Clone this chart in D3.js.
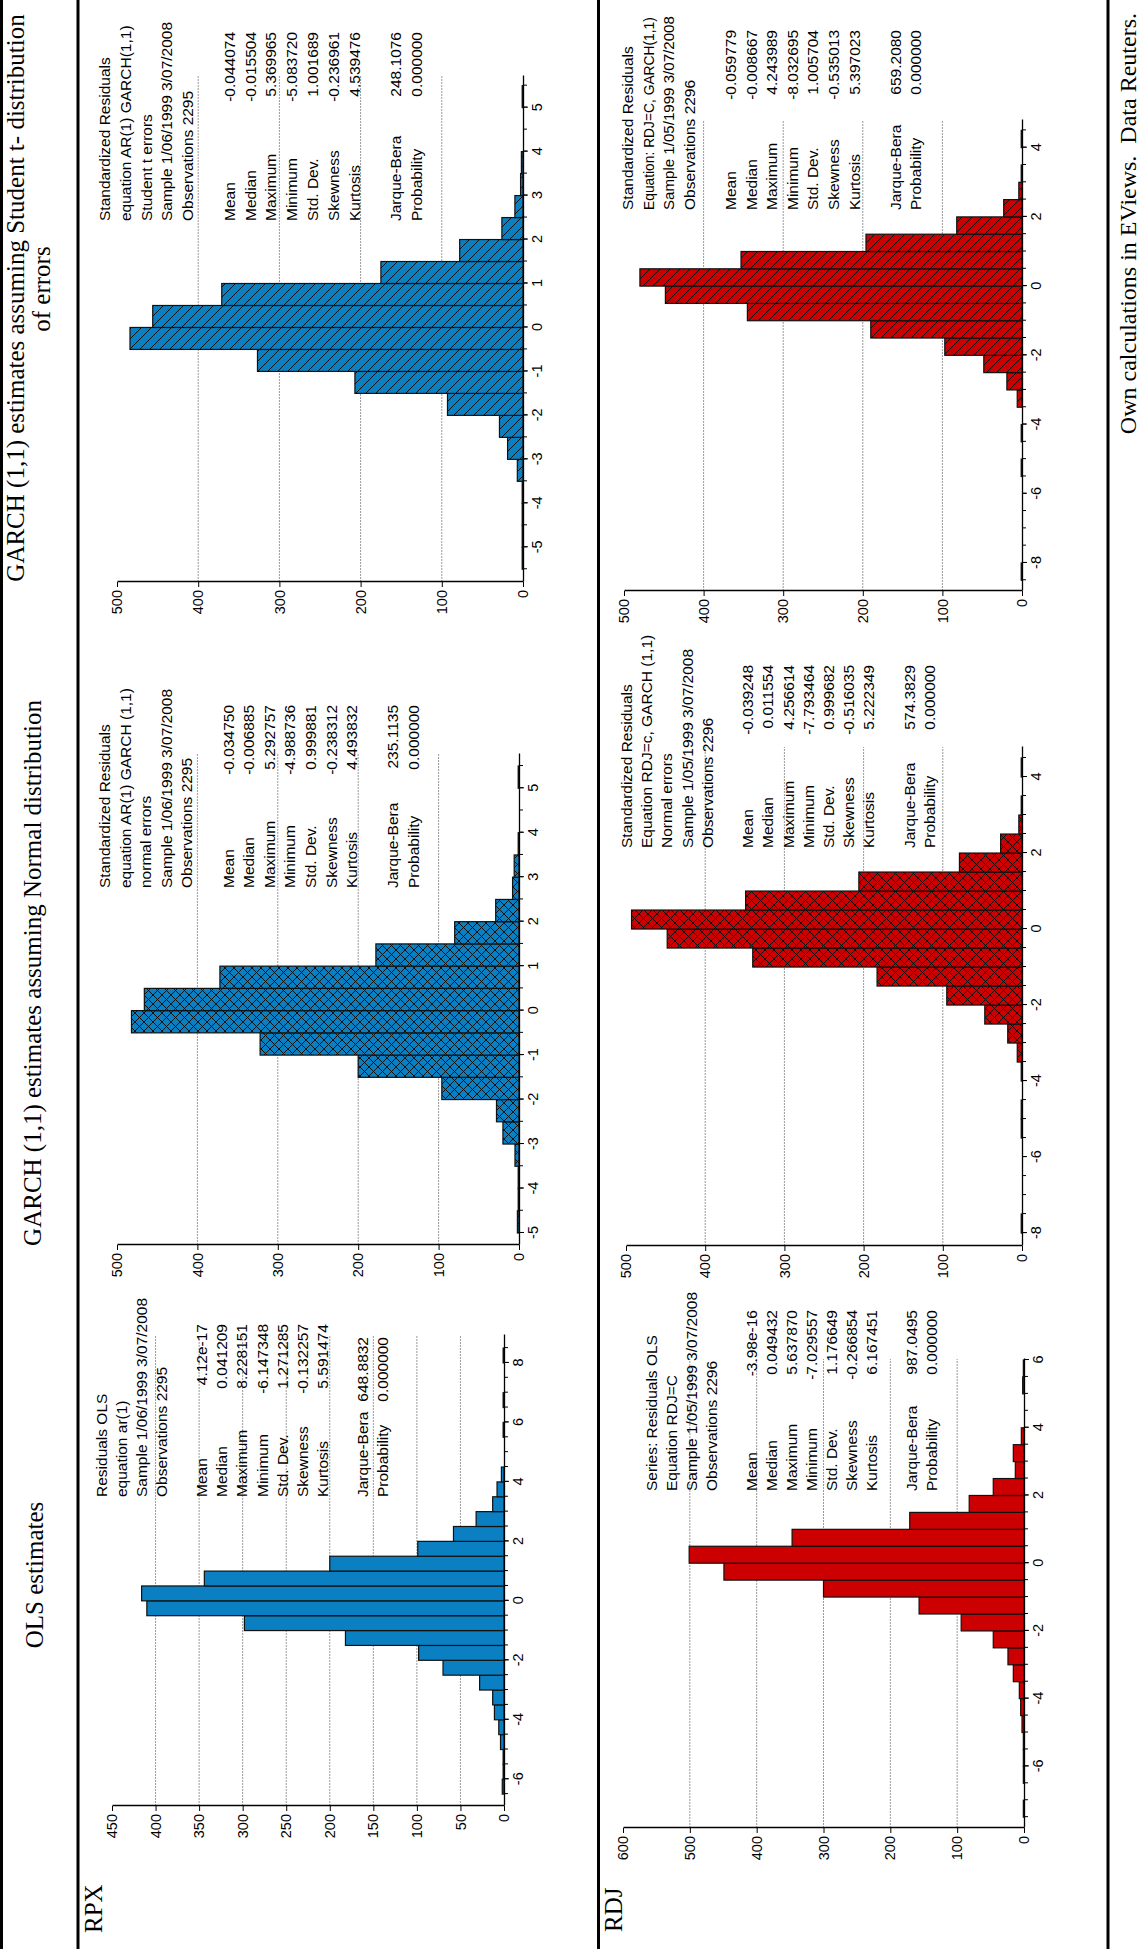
<!DOCTYPE html>
<html>
<head>
<meta charset="utf-8">
<script src="https://cdn.jsdelivr.net/npm/d3@7"></script>
<style>
  body { margin: 0; background: #fff; }
  svg { display: block; }
</style>
</head>
<body>
<script>
// ---- data ----
const rowLabels = ['RPX', 'RDJ'];
const colTitles = ['OLS estimates', 'GARCH (1,1) estimates assuming Normal distribution',
  'GARCH (1,1) estimates assuming Student t- distribution', 'of errors'];
const footNote = 'Own calculations in EViews.  Data Reuters.';

const statLabels = ['Mean', 'Median', 'Maximum', 'Minimum', 'Std. Dev.', 'Skewness', 'Kurtosis'];
const jbLabels = ['Jarque-Bera', 'Probability'];

// histogram counts, bins of width 0.5 starting at binStart
const rpxOlsStart = -6.5;
const rpxOlsCounts = [2, 1, 1, 4, 6, 11, 13, 28, 70, 98, 182, 298, 410, 416, 344, 200, 99, 58, 32, 13, 8, 3, 0, 0, 1, 0, 1, 0, 0, 1];
const rpxNormStart = -5;
const rpxNormCounts = [2, 1, 1, 5, 20, 28, 96, 200, 322, 482, 466, 372, 178, 80, 29, 8, 6, 1, 0, 0, 1];
const rpxStudStart = -5.5;
const rpxStudCounts = [1, 1, 1, 1, 7, 19, 29, 93, 207, 327, 484, 456, 371, 175, 78, 26, 10, 3, 2, 0, 0, 1];
const rdjOlsStart = -7.5;
const rdjOlsCounts = [1, 0, 1, 1, 1, 3, 5, 7, 16, 24, 46, 94, 157, 300, 449, 501, 347, 171, 82, 46, 13, 16, 4, 0, 0, 2, 1];
const rdjNormStart = -8;
const rdjNormCounts = [1, 0, 0, 0, 0, 1, 1, 0, 1, 6, 18, 47, 95, 183, 340, 448, 493, 349, 206, 79, 27, 4, 1, 0, 1];
const rdjStudStart = -8.5;
const rdjStudCounts = [1, 0, 0, 0, 0, 0, 1, 0, 1, 0, 6, 19, 48, 97, 190, 345, 448, 480, 353, 196, 82, 23, 4, 1, 0, 1];

const rpxOlsHead = ['Residuals OLS', 'equation ar(1)', 'Sample 1/06/1999 3/07/2008', 'Observations 2295'];
const rpxOlsStats = ['4.12e-17', '0.041209', '8.228151', '-6.147348', '1.271285', '-0.132257', '5.591474'];
const rpxOlsJb = ['648.8832', '0.000000'];
const rpxNormHead = ['Standardized Residuals', 'equation AR(1) GARCH (1,1)', 'normal errors', 'Sample 1/06/1999 3/07/2008', 'Observations 2295'];
const rpxNormStats = ['-0.034750', '-0.006885', '5.292757', '-4.988736', '0.999881', '-0.238312', '4.493832'];
const rpxNormJb = ['235.1135', '0.000000'];
const rpxStudHead = ['Standardized Residuals', 'equation AR(1) GARCH(1,1)', 'Student t errors', 'Sample 1/06/1999 3/07/2008', 'Observations 2295'];
const rpxStudStats = ['-0.044074', '-0.015504', '5.369965', '-5.083720', '1.001689', '-0.236961', '4.539476'];
const rpxStudJb = ['248.1076', '0.000000'];
const rdjOlsHead = ['Series: Residuals OLS', 'Equation RDJ=C', 'Sample 1/05/1999 3/07/2008', 'Observations 2296'];
const rdjOlsStats = ['-3.98e-16', '0.049432', '5.637870', '-7.029557', '1.176649', '-0.266854', '6.167451'];
const rdjOlsJb = ['987.0495', '0.000000'];
const rdjNormHead = ['Standardized Residuals', 'Equation RDJ=c, GARCH (1,1)', 'Normal errors', 'Sample 1/05/1999 3/07/2008', 'Observations 2296'];
const rdjNormStats = ['-0.039248', '0.011554', '4.256614', '-7.793464', '0.999682', '-0.516035', '5.222349'];
const rdjNormJb = ['574.3829', '0.000000'];
const rdjStudHead = ['Standardized Residuals', 'Equation: RDJ=C, GARCH(1,1)', 'Sample 1/05/1999 3/07/2008', 'Observations 2296'];
const rdjStudStats = ['-0.059779', '-0.008667', '4.243989', '-8.032695', '1.005704', '-0.535013', '5.397023'];
const rdjStudJb = ['659.2080', '0.000000'];

const blue = '#0a80c2', red = '#cc0000';

// ---- layout (page is drawn in a rotated frame: 1949 wide, 1144 tall) ----
const W = 1144, H = 1949;
const panels = [
  { start: rpxOlsStart, counts: rpxOlsCounts, head: rpxOlsHead, stats: rpxOlsStats, jb: rpxOlsJb, color: blue, fill: 'solid',
    ax: 143, x1: 614, dom: [-6.9, 8.94], y0: 504, yTop: 112, vmax: 450, vstep: 50, lstep: 2,
    tx: 452, vx: 625, jx: 612, base: 106.7, lh: 20.1 },
  { start: rpxNormStart, counts: rpxNormCounts, head: rpxNormHead, stats: rpxNormStats, jb: rpxNormJb, color: blue, fill: 'cross',
    ax: 704, x1: 1195, dom: [-5.27, 5.77], y0: 519, yTop: 117, vmax: 500, vstep: 100, lstep: 1,
    tx: 1061, vx: 1244, jx: 1244, base: 110, lh: 20.6 },
  { start: rpxStudStart, counts: rpxStudCounts, head: rpxStudHead, stats: rpxStudStats, jb: rpxStudJb, color: blue, fill: 'hatch',
    ax: 1367, x1: 1873, dom: [-5.79, 5.72], y0: 523, yTop: 117, vmax: 500, vstep: 100, lstep: 1,
    tx: 1728, vx: 1917, jx: 1917, base: 110, lh: 20.8 },
  { start: rdjOlsStart, counts: rdjOlsCounts, head: rdjOlsHead, stats: rdjOlsStats, jb: rdjOlsJb, color: red, fill: 'solid',
    ax: 121, x1: 590, dom: [-7.82, 6.03], y0: 1024, yTop: 623, vmax: 600, vstep: 100, lstep: 2,
    tx: 458, vx: 639, jx: 639, base: 657, lh: 20 },
  { start: rdjNormStart, counts: rdjNormCounts, head: rdjNormHead, stats: rdjNormStats, jb: rdjNormJb, color: red, fill: 'cross',
    ax: 703, x1: 1202, dom: [-8.34, 4.79], y0: 1022, yTop: 626, vmax: 500, vstep: 100, lstep: 2,
    tx: 1101, vx: 1284, jx: 1284, base: 632, lh: 20.2 },
  { start: rdjStudStart, counts: rdjStudCounts, head: rdjStudHead, stats: rdjStudStats, jb: rdjStudJb, color: red, fill: 'hatch',
    ax: 1358, x1: 1829, dom: [-8.81, 4.8], y0: 1022, yTop: 624, vmax: 500, vstep: 100, lstep: 2,
    tx: 1739, vx: 1919, jx: 1919, base: 633, lh: 20.6 }
];

const svg = d3.select('body').append('svg')
  .attr('width', W)
  .attr('height', H);

const defs = svg.append('defs');
const makePattern = (id, color, kind) => {
  const s = kind === 'cross' ? 9 : 10;
  const p = defs.append('pattern')
    .attr('id', id)
    .attr('patternUnits', 'userSpaceOnUse')
    .attr('width', s).attr('height', s);
  p.append('rect').attr('width', s).attr('height', s).attr('fill', color);
  // "\" in the rotated frame shows as "/" on the page
  p.append('path')
    .attr('d', `M-1,-1L${s + 1},${s + 1}M-1,${s - 1}L1,${s + 1}M${s - 1},-1L${s + 1},1`)
    .attr('stroke', '#111').attr('stroke-width', 1);
  if (kind === 'cross') {
    p.append('path')
      .attr('d', `M-1,${s + 1}L${s + 1},-1M-1,1L1,-1M${s - 1},${s + 1}L${s + 1},${s - 1}`)
      .attr('stroke', '#111').attr('stroke-width', 1);
  }
};
makePattern('crossBlue', blue, 'cross');
makePattern('hatchBlue', blue, 'hatch');
makePattern('crossRed', red, 'cross');
makePattern('hatchRed', red, 'hatch');

const page = svg.append('g')
  .attr('transform', `translate(0,${H}) rotate(-90)`);

// table rules
[1.5, 78, 598.5, 1108].forEach(y => {
  page.append('line')
    .attr('x1', 0).attr('x2', H)
    .attr('y1', y).attr('y2', y)
    .attr('stroke', '#000').attr('stroke-width', 3);
});

const serif = "'Liberation Serif', 'Times New Roman', serif";
const sans = "'Liberation Sans', Arial, sans-serif";

// column titles
page.append('text').attr('x', 374).attr('y', 43).attr('text-anchor', 'middle')
  .attr('font-family', serif).attr('font-size', 25).text(colTitles[0]);
page.append('text').attr('x', 976).attr('y', 41).attr('text-anchor', 'middle')
  .attr('font-family', serif).attr('font-size', 25).text(colTitles[1]);
page.append('text').attr('x', 1651).attr('y', 24).attr('text-anchor', 'middle')
  .attr('font-family', serif).attr('font-size', 25).text(colTitles[2]);
page.append('text').attr('x', 1660).attr('y', 50).attr('text-anchor', 'middle')
  .attr('font-family', serif).attr('font-size', 25).text(colTitles[3]);

// row labels
page.append('text').attr('x', 16).attr('y', 102)
  .attr('font-family', serif).attr('font-size', 25).text(rowLabels[0]);
page.append('text').attr('x', 17).attr('y', 622)
  .attr('font-family', serif).attr('font-size', 25).text(rowLabels[1]);

// footnote
page.append('text').attr('x', 1936).attr('y', 1136).attr('text-anchor', 'end')
  .attr('font-family', serif).attr('font-size', 24)
  .attr('xml:space', 'preserve').style('white-space', 'pre')
  .text(footNote);

const drawPanel = p => {
  const g = page.append('g');
  const x = d3.scaleLinear().domain(p.dom).range([p.ax, p.x1]);
  const y = d3.scaleLinear().domain([0, p.vmax]).range([p.y0, p.yTop]);

  // grid lines
  const gridVals = d3.range(p.vstep, p.vmax, p.vstep);
  g.selectAll('line.grid')
    .data(gridVals)
    .enter()
    .append('line')
    .attr('x1', p.ax).attr('x2', p.x1)
    .attr('y1', d => y(d)).attr('y2', d => y(d))
    .attr('stroke', '#9a9a9a')
    .attr('stroke-width', 1)
    .attr('stroke-dasharray', '2,1');

  // bars
  const bins = p.counts.map((c, i) => ({ lo: p.start + i * 0.5, n: c })).filter(d => d.n > 0);
  const fillId = p.fill === 'solid' ? p.color
    : `url(#${p.fill}${p.color === blue ? 'Blue' : 'Red'})`;
  g.selectAll('rect.bar')
    .data(bins)
    .enter()
    .append('rect')
    .attr('x', d => x(d.lo))
    .attr('width', d => x(d.lo + 0.5) - x(d.lo))
    .attr('y', d => y(d.n))
    .attr('height', d => Math.max(0.8, y(0) - y(d.n)))
    .attr('fill', fillId)
    .attr('stroke', '#111')
    .attr('stroke-width', 1.2);

  // value axis
  const yAxis = d3.axisLeft(y)
    .tickValues(d3.range(0, p.vmax + 1, p.vstep))
    .tickSize(5).tickPadding(3).tickSizeOuter(0)
    .tickFormat(d => String(d));
  const ya = g.append('g').attr('transform', `translate(${p.ax},0)`).call(yAxis);

  // bin axis: minor ticks every 0.5, labels at lstep
  const lo = Math.ceil(p.dom[0] * 2) / 2, hi = Math.floor(p.dom[1] * 2) / 2;
  const minor = d3.range(lo, hi + 0.001, 0.5);
  const major = minor.filter(d => Math.abs(d / p.lstep - Math.round(d / p.lstep)) < 1e-6);
  const xa = g.append('g').attr('transform', `translate(0,${p.y0})`)
    .call(d3.axisBottom(x).tickValues(minor).tickSize(4).tickSizeOuter(0).tickFormat(''));
  const xl = g.append('g').attr('transform', `translate(0,${p.y0})`)
    .call(d3.axisBottom(x).tickValues(major).tickSize(5).tickPadding(4).tickSizeOuter(0)
      .tickFormat(d => String(d)));
  xl.select('.domain').remove();

  [ya, xa, xl].forEach(a => {
    a.selectAll('text').attr('font-family', sans).attr('font-size', 14.5).attr('fill', '#000');
    a.selectAll('line').attr('stroke', '#000');
    a.select('.domain').attr('stroke', '#000').attr('stroke-width', 1.3);
  });

  // statistics block
  const rows = [];
  p.head.forEach((t, i) => rows.push({ i, label: t }));
  const n = p.head.length;
  statLabels.forEach((t, i) => rows.push({ i: n + 1 + i, label: t, val: p.stats[i], vx: p.vx }));
  jbLabels.forEach((t, i) => rows.push({ i: n + 9 + i, label: t, val: p.jb[i], vx: p.jx }));

  const txt = g.append('g')
    .attr('font-family', sans)
    .attr('font-size', 15.5)
    .attr('fill', '#000');
  txt.selectAll('text.lab')
    .data(rows)
    .enter()
    .append('text')
    .attr('x', p.tx)
    .attr('y', d => p.base + d.i * p.lh)
    .text(d => d.label)
    .each(function () {
      // keep long header lines inside the page edge by shrinking the font a little
      const room = H - 16 - p.tx;
      const len = this.getComputedTextLength();
      if (len > room) {
        d3.select(this).attr('font-size', Math.floor(15.5 * room / len * 10) / 10);
      }
    });
  txt.selectAll('text.val')
    .data(rows.filter(d => d.val))
    .enter()
    .append('text')
    .attr('x', d => d.vx)
    .attr('y', d => p.base + d.i * p.lh)
    .attr('text-anchor', 'end')
    .text(d => d.val);
};

panels.forEach(drawPanel);
</script>
</body>
</html>
